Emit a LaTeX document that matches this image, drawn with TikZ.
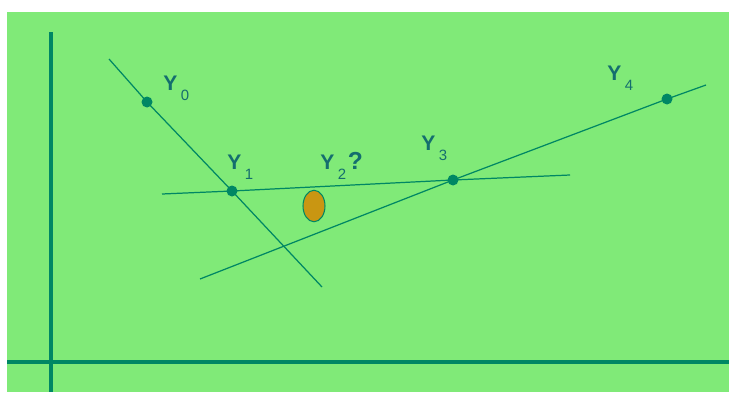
\documentclass[tikz,border=0pt]{standalone}
\usepackage{fontspec}
\setmainfont{Liberation Sans}
\usepackage{tikz}
\usetikzlibrary{positioning, calc, shapes.geometric}
\definecolor{cBg}{RGB}{128,234,120}
\definecolor{cLine}{RGB}{0,135,100}
\definecolor{cLbl}{RGB}{20,110,110}
\definecolor{cOrange}{RGB}{201,150,18}
\tikzset{
	axis/.style   ={cLine, line width=2pt},
	secant/.style ={cLine, line width=0.7pt},
	dot/.style    ={circle, fill=cLine, inner sep=0pt, minimum size=0.22cm},
	lbl/.style    ={text=cLbl, font=\fontsize{12}{12}\selectfont, inner sep=0pt, anchor=base west},
	blob/.style   ={ellipse, draw=cLine, line width=0.6pt, fill=cOrange, minimum width=0.44cm, minimum height=0.63cm, inner sep=0pt},
}
\newcommand{\ylab}[1]{\textbf{Y}\raisebox{-6pt}{\fontsize{8.5}{8.5}\selectfont\hspace{2pt}#1}}
\begin{document}
\begin{tikzpicture}[x=0.02cm, y=-0.02cm]
	\useasboundingbox (0,0) rectangle (729,392);
	\fill[cBg] (7,12) rectangle (729,392);
	% axes
	\coordinate (xa) at (7,362);  \coordinate (xb) at (729,362);
	\coordinate (ya) at (51,32);  \coordinate (yb) at (51,392);
	\draw[axis] (xa) -- (xb);
	\draw[axis] (ya) -- (yb);
	% points
	\node[dot] (y0) at (147,102) {};
	\node[dot] (y1) at (232,191) {};
	\node[dot] (y3) at (453,180) {};
	\node[dot] (y4) at (667,99) {};
	% line ends
	\coordinate (a0) at (109,59);  \coordinate (a1) at (322,287);
	\coordinate (b0) at (162,194); \coordinate (b1) at (570,175);
	\coordinate (c0) at (200,279); \coordinate (c1) at (706,85);
	\draw[secant] (a0) -- (y0.center) -- (y1.center) -- (a1);
	\draw[secant] (b0) -- (y1.center) -- (y3.center) -- (b1);
	\draw[secant] (c0) -- (y3.center) -- (y4.center) -- (c1);
	\node[blob] (guess) at (314,206) {};
	% labels
	\node[lbl] (l0) at (163,90) {\ylab{0}};
	\node[lbl] (l1) at (227,169) {\ylab{1}};
	\node[lbl] (l2) at (320,169) {\ylab{2}\hspace{1pt}\textbf{\fontsize{14}{14}\selectfont ?}};
	\node[lbl] (l3) at (421,150) {\ylab{3}};
	\node[lbl] (l4) at (607,80) {\ylab{4}};
\end{tikzpicture}
\end{document}
